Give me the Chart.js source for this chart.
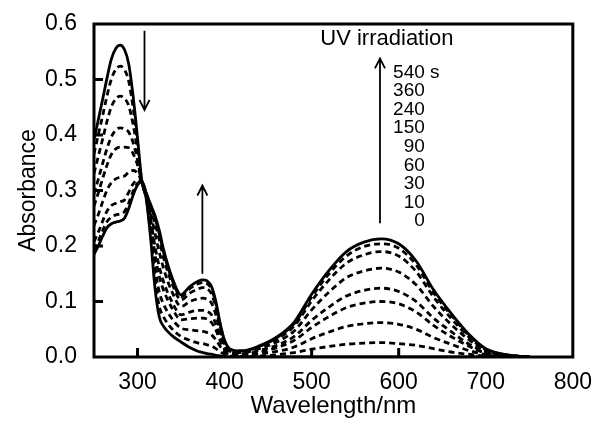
<!DOCTYPE html>
<html>
<head>
<meta charset="utf-8">
<script src="https://cdn.jsdelivr.net/npm/chart.js@4/dist/chart.umd.min.js"></script>
<style>
  html, body { margin: 0; padding: 0; background: #fff; }
</style>
</head>
<body>
<canvas id="uv-vis-graph" width="596" height="421"></canvas>
<script>
/* global Chart */

// wavelength, nm
const wavelength = [250, 255, 260, 265, 270, 275, 280, 285, 290, 295, 300, 305, 310, 315, 320, 325, 330,
  340, 350, 360, 370, 375, 380, 385, 390, 395, 400, 405, 410, 420,
  440, 460, 480, 500, 520, 540, 560, 580, 600, 620, 640, 660, 680, 700, 720, 740, 750];

// irradiation time, s
const times = ['0', '10', '30', '60', '90', '150', '240', '360', '540'];

const abs0 = [.391, .428, .465, .503, .537, .556, .562, .554, .527, .469, .395, .316, .285, .215, .125, .072, .055,
  .038, .027, .017, .010, .008, .006, .005, .003, .002, .001, 0, 0, 0,
  0, 0, 0, 0, 0, 0, 0, 0, 0, 0, 0, 0, 0, 0, 0, 0, 0];
const abs10 = [.366, .401, .435, .471, .501, .518, .524, .518, .496, .448, .385, .316, .286, .222, .141, .091, .072,
  .050, .037, .030, .025, .024, .022, .020, .015, .009, .005, .002, .001, .001,
  .002, .004, .008, .014, .019, .023, .025, .026, .024, .021, .015, .009, .005, .002, .001, 0, 0];
const abs30 = [.331, .362, .393, .425, .451, .465, .470, .466, .452, .418, .370, .316, .288, .232, .163, .117, .095,
  .068, .052, .049, .047, .046, .044, .040, .031, .019, .009, .005, .003, .003,
  .006, .010, .018, .033, .045, .055, .060, .062, .059, .050, .035, .023, .012, .004, .001, 0, 0];
const abs60 = [.294, .321, .349, .376, .397, .409, .413, .411, .405, .386, .355, .316, .290, .243, .186, .145, .120,
  .087, .067, .069, .070, .070, .068, .062, .049, .029, .015, .008, .006, .005,
  .009, .017, .030, .053, .073, .089, .097, .100, .096, .081, .057, .037, .020, .007, .002, 0, 0];
const abs90 = [.272, .296, .322, .346, .365, .375, .378, .378, .377, .366, .346, .316, .291, .250, .200, .163, .135,
  .098, .076, .081, .084, .084, .082, .076, .059, .036, .018, .009, .007, .006,
  .012, .021, .037, .066, .090, .110, .120, .124, .118, .100, .070, .046, .024, .009, .003, .001, 0];
const abs150 = [.237, .257, .280, .301, .314, .321, .324, .326, .333, .336, .331, .316, .293, .260, .223, .189, .159,
  .116, .091, .100, .105, .106, .104, .097, .076, .046, .023, .012, .009, .008,
  .015, .027, .047, .085, .117, .143, .155, .160, .153, .130, .091, .059, .032, .011, .004, .001, 0];
const abs240 = [.208, .225, .245, .263, .273, .277, .280, .283, .297, .312, .319, .316, .294, .268, .241, .211, .178,
  .131, .103, .115, .123, .125, .123, .114, .089, .054, .027, .014, .011, .010,
  .018, .032, .056, .101, .139, .169, .184, .190, .182, .154, .108, .070, .037, .013, .004, .001, 0];
const abs360 = [.193, .209, .228, .244, .252, .256, .258, .262, .278, .299, .313, .316, .295, .273, .250, .222, .188,
  .138, .109, .123, .132, .134, .132, .122, .096, .058, .029, .015, .012, .011,
  .019, .035, .060, .108, .150, .182, .199, .204, .196, .166, .116, .076, .040, .014, .005, .001, 0];
const abs540 = [.185, .200, .218, .233, .240, .243, .245, .250, .268, .292, .310, .316, .295, .275, .255, .228, .193,
  .142, .112, .127, .137, .139, .137, .127, .100, .060, .030, .016, .012, .011,
  .020, .036, .063, .113, .156, .190, .207, .213, .204, .173, .121, .079, .042, .015, .005, .001, 0];

const spectra = [abs0, abs10, abs30, abs60, abs90, abs150, abs240, abs360, abs540];

const xTicks = [300, 400, 500, 600, 700, 800];
const yTicks = [0, 0.1, 0.2, 0.3, 0.4, 0.5, 0.6];

(() => {
  const family = '"Liberation Sans", Arial, sans-serif';

  // arrows: wavelength, from -> to (absorbance)
  const arrows = [
    { nm: 308, from: 0.588, to: 0.445 },
    { nm: 374.5, from: 0.150, to: 0.309 },
    { nm: 578.5, from: 0.241, to: 0.538 }
  ];

  const datasets = spectra.map((s, i) => {
    const solid = i === 0 || i === spectra.length - 1;
    return {
      label: times[i] + ' s',
      data: s.map((v, j) => ({ x: wavelength[j], y: v })),
      borderColor: '#000',
      borderWidth: 2.8,
      borderDash: solid ? [] : [6, 4],
      pointRadius: 0,
      fill: false,
      cubicInterpolationMode: 'monotone'
    };
  });

  const decor = {
    id: 'decor',
    afterDatasetsDraw(chart) {
      const { ctx, chartArea: a, scales: { x, y } } = chart;
      ctx.save();
      ctx.strokeStyle = '#000';
      ctx.fillStyle = '#000';

      // inward ticks
      ctx.lineWidth = 3;
      ctx.beginPath();
      yTicks.slice(1, -1).forEach(v => {
        const py = y.getPixelForValue(v);
        ctx.moveTo(a.left, py);
        ctx.lineTo(a.left + 9, py);
      });
      xTicks.slice(0, -1).forEach(v => {
        const px = x.getPixelForValue(v);
        ctx.moveTo(px, a.bottom);
        ctx.lineTo(px, a.bottom - 9);
      });
      ctx.stroke();

      // frame
      ctx.strokeRect(a.left, a.top, a.right - a.left, a.bottom - a.top);

      // arrows
      ctx.lineWidth = 1.8;
      arrows.forEach(ar => {
        const px = x.getPixelForValue(ar.nm);
        const y1 = y.getPixelForValue(ar.from);
        const y2 = y.getPixelForValue(ar.to);
        const dir = y2 > y1 ? -1 : 1;
        ctx.beginPath();
        ctx.moveTo(px, y1);
        ctx.lineTo(px, y2);
        ctx.moveTo(px - 5, y2 + dir * 10);
        ctx.lineTo(px, y2);
        ctx.lineTo(px + 5, y2 + dir * 10);
        ctx.stroke();
      });

      // labels
      ctx.textBaseline = 'middle';
      ctx.textAlign = 'center';
      ctx.font = '22px ' + family;
      ctx.fillText('UV irradiation', x.getPixelForValue(586.5), y.getPixelForValue(0.573));

      ctx.font = '19px ' + family;
      const lx = x.getPixelForValue(630);
      const ly = y.getPixelForValue(0.513);
      times.slice().reverse().forEach((t, i) => {
        const py = ly + i * 18.6;
        ctx.textAlign = 'right';
        ctx.fillText(t, lx, py);
        if (i === 0) {
          ctx.textAlign = 'left';
          ctx.fillText(' s', lx, py);
        }
      });
      ctx.restore();
    }
  };

  new Chart('uv-vis-graph', {
    type: 'line',
    data: { datasets },
    options: {
      responsive: false,
      animation: false,
      devicePixelRatio: 1,
      layout: { padding: { top: 24, right: 23, left: 0, bottom: 0 } },
      plugins: { legend: { display: false }, tooltip: { enabled: false } },
      scales: {
        x: {
          type: 'linear',
          min: 250,
          max: 800,
          afterBuildTicks: s => { s.ticks = xTicks.map(v => ({ value: v })); },
          afterFit: s => { s.height = 64; },
          grid: { display: false },
          border: { display: false },
          ticks: { color: '#000', font: { size: 23, family }, padding: 4, maxRotation: 0 },
          title: { display: true, text: 'Wavelength/nm', color: '#000', font: { size: 24, family }, padding: { top: 0, bottom: 0 } }
        },
        y: {
          min: 0,
          max: 0.6,
          afterBuildTicks: s => { s.ticks = yTicks.map(v => ({ value: v })); },
          afterFit: s => { s.width = 94; },
          grid: { display: false },
          border: { display: false },
          ticks: { color: '#000', font: { size: 23, family }, padding: 9, callback: v => v.toFixed(1) },
          title: { display: true, text: 'Absorbance', color: '#000', font: { size: 23, family }, padding: { top: 15, bottom: 0 } }
        }
      }
    },
    plugins: [decor]
  });
})();
</script>
</body>
</html>
